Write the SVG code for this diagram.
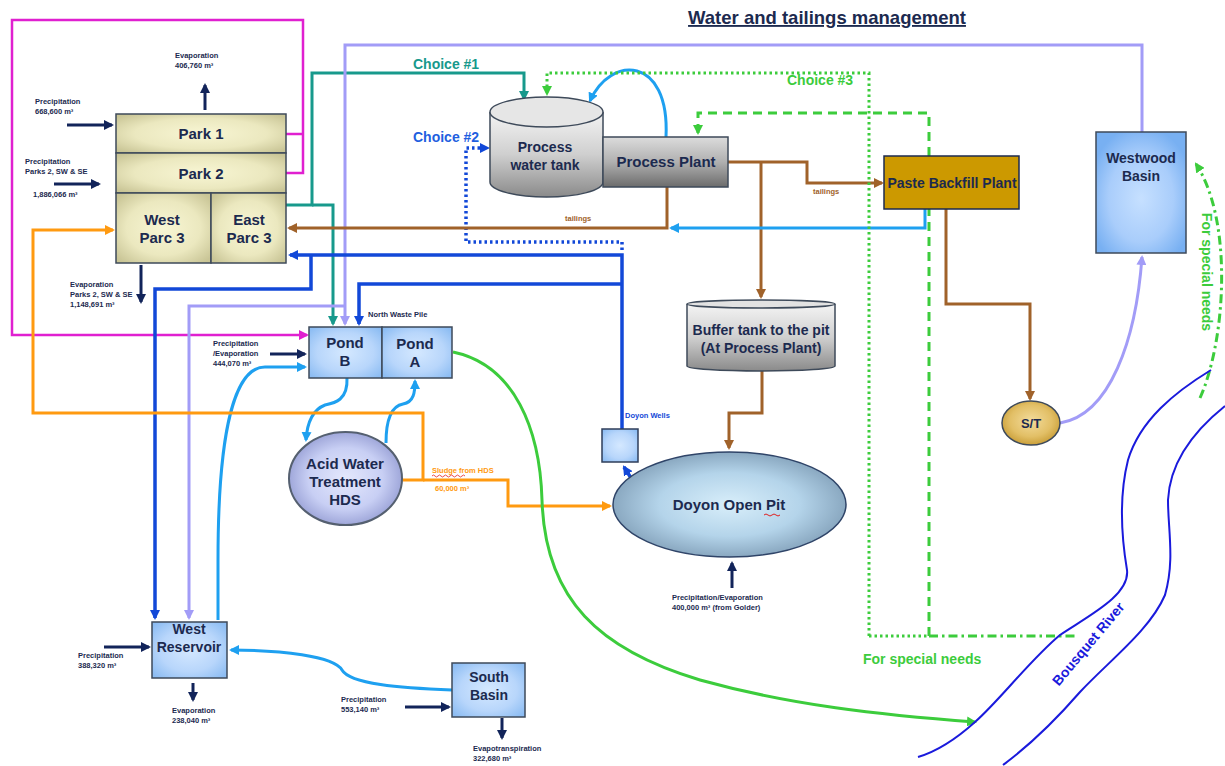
<svg xmlns="http://www.w3.org/2000/svg" width="1225" height="766" viewBox="0 0 1225 766">
<style>
.t{font-family:"Liberation Sans",Arial,sans-serif;font-weight:bold;text-anchor:middle}
.n{font-size:15px;fill:#1c2a4f}
.s{font-family:"Liberation Sans",Arial,sans-serif;font-weight:bold;font-size:7.5px;fill:#1c2a4f}
.c{fill:none;stroke-width:3;stroke-linejoin:miter}
.navy{stroke:#12245a;stroke-width:3}
.lb{stroke:#1ea0f0}
.db{stroke:#1248d8;stroke-width:3.5}
.lav{stroke:#a29cf7}
.teal{stroke:#17998c}
.br{stroke:#a0622a}
.or{stroke:#ff9a10}
.gr{stroke:#3ccc3c}
.mg{stroke:#e020d0;stroke-width:2.5}
.box{stroke:#3e4a5a;stroke-width:1.5}
</style>
<defs>
<marker id="mNavy" viewBox="0 0 10 10" refX="8" refY="5" markerWidth="10" markerHeight="10" markerUnits="userSpaceOnUse" orient="auto"><path d="M0,0L10,5L0,10z" fill="#12245a"/></marker>
<marker id="mLb" viewBox="0 0 10 10" refX="8" refY="5" markerWidth="10" markerHeight="10" markerUnits="userSpaceOnUse" orient="auto"><path d="M0,0L10,5L0,10z" fill="#1ea0f0"/></marker>
<marker id="mDb" viewBox="0 0 10 10" refX="8" refY="5" markerWidth="10" markerHeight="10" markerUnits="userSpaceOnUse" orient="auto"><path d="M0,0L10,5L0,10z" fill="#1248d8"/></marker>
<marker id="mLav" viewBox="0 0 10 10" refX="8" refY="5" markerWidth="10" markerHeight="10" markerUnits="userSpaceOnUse" orient="auto"><path d="M0,0L10,5L0,10z" fill="#a29cf7"/></marker>
<marker id="mTeal" viewBox="0 0 10 10" refX="8" refY="5" markerWidth="10" markerHeight="10" markerUnits="userSpaceOnUse" orient="auto"><path d="M0,0L10,5L0,10z" fill="#17998c"/></marker>
<marker id="mBr" viewBox="0 0 10 10" refX="8" refY="5" markerWidth="10" markerHeight="10" markerUnits="userSpaceOnUse" orient="auto"><path d="M0,0L10,5L0,10z" fill="#a0622a"/></marker>
<marker id="mOr" viewBox="0 0 10 10" refX="8" refY="5" markerWidth="10" markerHeight="10" markerUnits="userSpaceOnUse" orient="auto"><path d="M0,0L10,5L0,10z" fill="#ff9a10"/></marker>
<marker id="mGr" viewBox="0 0 10 10" refX="8" refY="5" markerWidth="10" markerHeight="10" markerUnits="userSpaceOnUse" orient="auto"><path d="M0,0L10,5L0,10z" fill="#3ccc3c"/></marker>
<marker id="mMg" viewBox="0 0 10 10" refX="8" refY="5" markerWidth="10" markerHeight="10" markerUnits="userSpaceOnUse" orient="auto"><path d="M0,0L10,5L0,10z" fill="#e020d0"/></marker>
<radialGradient id="gKhaki" cx="50%" cy="50%" r="65%"><stop offset="0" stop-color="#f8f6d4"/><stop offset="0.6" stop-color="#ebe8bf"/><stop offset="1" stop-color="#c9c596"/></radialGradient>
<radialGradient id="gBlue" cx="50%" cy="50%" r="65%"><stop offset="0" stop-color="#d4e8ff"/><stop offset="0.6" stop-color="#b8d6fb"/><stop offset="1" stop-color="#8dbdf3"/></radialGradient>
<radialGradient id="gWest" cx="50%" cy="55%" r="60%"><stop offset="0" stop-color="#c6e0ff"/><stop offset="0.6" stop-color="#a9cdfb"/><stop offset="1" stop-color="#78b0f2"/></radialGradient>
<linearGradient id="gCyl" x1="0" y1="0" x2="0" y2="1"><stop offset="0" stop-color="#f4f4f4"/><stop offset="0.5" stop-color="#cfcfcf"/><stop offset="1" stop-color="#8a8a8a"/></linearGradient>
<linearGradient id="gPlant" x1="0" y1="0" x2="0" y2="1"><stop offset="0" stop-color="#dcdcdc"/><stop offset="0.5" stop-color="#b0b0b0"/><stop offset="1" stop-color="#6c6c6c"/></linearGradient>
<radialGradient id="gPit" cx="50%" cy="50%" r="55%"><stop offset="0" stop-color="#d8eefa"/><stop offset="0.55" stop-color="#b4d4ea"/><stop offset="1" stop-color="#7f9db6"/></radialGradient>
<radialGradient id="gHds" cx="50%" cy="50%" r="55%"><stop offset="0" stop-color="#e4e8fc"/><stop offset="0.6" stop-color="#c8cff4"/><stop offset="1" stop-color="#939bd2"/></radialGradient>
<radialGradient id="gSt" cx="50%" cy="45%" r="60%"><stop offset="0" stop-color="#f3dc9c"/><stop offset="0.6" stop-color="#e2bf66"/><stop offset="1" stop-color="#c4972e"/></radialGradient>
</defs>
<rect width="1225" height="766" fill="#ffffff"/>

<text x="827" y="24" class="t" font-size="18.5" fill="#1c2a4f" text-decoration="underline">Water and tailings management</text>

<g id="connectors">
<!-- magenta -->
<path class="c mg" d="M286,134H303"/>
<path class="c mg" d="M286,173H303V20H12V335H307" marker-end="url(#mMg)"/>
<!-- teal -->
<path class="c teal" d="M284,205H312V73H524V99" marker-end="url(#mTeal)"/>
<path class="c teal" d="M312,205H333V324" marker-end="url(#mTeal)"/>
<!-- lavender -->
<path class="c lav" d="M1142,132V45H345V324" marker-end="url(#mLav)"/>
<path class="c lav" d="M345,306H189V618" marker-end="url(#mLav)"/>
<path class="c lav" d="M1060,423C1110,415 1136,340 1142,257" marker-end="url(#mLav)"/>
<!-- dark blue -->
<path class="c db" d="M622,429V255H290" marker-end="url(#mDb)"/>
<path class="c db" d="M622,284H359V324" marker-end="url(#mDb)"/>
<path class="c db" d="M311,255V289H155V618" marker-end="url(#mDb)"/>
<path class="c db" d="M631,478L624,467" stroke-width="3" marker-end="url(#mDb)"/>
<path class="c db" d="M622,250V242H466V148H488" stroke-width="3" stroke-dasharray="2.5 3" marker-end="url(#mDb)"/>
<!-- brown -->
<path class="c br" d="M667,187V228H289" marker-end="url(#mBr)"/>
<path class="c br" d="M728,162H807V183H882" marker-end="url(#mBr)"/>
<path class="c br" d="M761,162V297" marker-end="url(#mBr)"/>
<path class="c br" d="M762,371V413H729V448" marker-end="url(#mBr)"/>
<path class="c br" d="M946,209V304H1030V399" marker-end="url(#mBr)"/>
<!-- light blue -->
<path class="c lb" d="M925,209V228H671" marker-end="url(#mLb)"/>
<path class="c lb" d="M139,144V166" marker-end="url(#mLb)"/>
<path class="c lb" d="M155,182V207" marker-end="url(#mLb)"/>
<path class="c lb" d="M193,231H226" marker-end="url(#mLb)"/>
<path class="c lb" d="M593,148H625" marker-end="url(#mLb)"/>
<path class="c lb" d="M666,137C670,55 610,55 590,101" marker-end="url(#mLb)"/>
<path class="c lb" d="M347,378C348,400 335,403 325,405C312,410 307,425 306,440" marker-end="url(#mLb)"/>
<path class="c lb" d="M386,443C386,418 392,406 403,404C414,402 415,392 415,381" marker-end="url(#mLb)"/>
<path class="c lb" d="M218,620V560C218,430 235,367 265,367H305" marker-end="url(#mLb)"/>
<path class="c lb" d="M452,690C400,688 350,684 342,670C334,656 280,650 231,650" marker-end="url(#mLb)"/>
<!-- orange -->
<path class="c or" d="M402,480H423V413H33V230H113" marker-end="url(#mOr)"/>
<path class="c or" d="M423,480H508V506H610" marker-end="url(#mOr)"/>
<!-- green -->
<path class="c gr" d="M453,352C515,365 540,430 542,500C545,600 600,650 700,680C790,705 880,715 975,722" marker-end="url(#mGr)"/>
<path class="c gr" d="M869,636V73H547V94" stroke-dasharray="2.5 3" marker-end="url(#mGr)"/>
<path class="c gr" d="M869,636H929" stroke-dasharray="2.5 3"/>
<path class="c gr" d="M929,636V113H698V133" stroke-dasharray="9 6" marker-end="url(#mGr)"/>
<path class="c gr" d="M929,636H1078" stroke-dasharray="9 4 2.5 4"/>
<path class="c gr" d="M1200,398C1226,340 1233,220 1196,164" stroke-dasharray="9 4 2.5 4" marker-end="url(#mGr)"/>
<!-- navy input/output arrows -->
<path class="c navy" d="M205,110V85" marker-end="url(#mNavy)"/>
<path class="c navy" d="M67,125H112" marker-end="url(#mNavy)"/>
<path class="c navy" d="M54,184H99" marker-end="url(#mNavy)"/>
<path class="c navy" d="M141,265V302" marker-end="url(#mNavy)"/>
<path class="c navy" d="M270,354H305" marker-end="url(#mNavy)"/>
<path class="c navy" d="M732,588V563" marker-end="url(#mNavy)"/>
<path class="c navy" d="M104,647H149" marker-end="url(#mNavy)"/>
<path class="c navy" d="M193,683V700" marker-end="url(#mNavy)"/>
<path class="c navy" d="M405,707H449" marker-end="url(#mNavy)"/>
<path class="c navy" d="M502,718V738" marker-end="url(#mNavy)"/>
</g>

<g id="river">
<path d="M1211,370C1175,392 1140,420 1128,460C1118,500 1122,540 1127,570C1130,595 1090,615 1060,635C1030,660 1000,700 975,722C955,740 935,752 918,757" fill="none" stroke="#1a1adc" stroke-width="2"/>
<path d="M1225,406C1195,430 1170,460 1168,500C1168,530 1175,560 1165,595C1150,630 1110,660 1080,692C1060,715 1030,745 1003,765" fill="none" stroke="#1a1adc" stroke-width="2"/>
<text class="t" font-size="14" fill="#1a1adc" transform="translate(1092,647) rotate(-50)">Bousquet River</text>
</g>

<g id="parks">
<rect x="116" y="114" width="170" height="39" fill="url(#gKhaki)" class="box"/>
<rect x="116" y="153" width="170" height="40" fill="url(#gKhaki)" class="box"/>
<rect x="116" y="193" width="95" height="70" fill="url(#gKhaki)" class="box"/>
<rect x="211" y="193" width="75" height="70" fill="url(#gKhaki)" class="box"/>
<text x="201" y="139" class="t n">Park 1</text>
<text x="201" y="179" class="t n">Park 2</text>
<text x="162" y="225" class="t n">West</text>
<text x="162" y="243" class="t n">Parc 3</text>
<text x="249" y="225" class="t n">East</text>
<text x="249" y="243" class="t n">Parc 3</text>
</g>

<g id="process-water-tank">
<path d="M490,112V182A56.5,15 0 0 0 603,182V112" fill="url(#gCyl)" stroke="#3e4a5a" stroke-width="1.5"/>
<ellipse cx="546.5" cy="112" rx="56.5" ry="15" fill="#e6e6e6" stroke="#3e4a5a" stroke-width="1.5"/>
<text x="545" y="152" class="t" font-size="14" fill="#1c2a4f">Process</text>
<text x="545" y="170" class="t" font-size="14" fill="#1c2a4f">water tank</text>
</g>

<g id="process-plant">
<rect x="603" y="137" width="125" height="50" fill="url(#gPlant)" class="box"/>
<text x="666" y="167" class="t" font-size="15" fill="#1c2a4f">Process Plant</text>
</g>

<g id="paste-backfill">
<rect x="884" y="156" width="135" height="53" fill="#cc9900" stroke="#1c2a4f" stroke-width="1.5"/>
<text x="952" y="188" class="t" font-size="14" fill="#1c2a4f">Paste Backfill Plant</text>
</g>

<g id="westwood">
<rect x="1096" y="132" width="90" height="121" fill="url(#gWest)" class="box"/>
<text x="1141" y="163" class="t" font-size="14" fill="#1c2a4f">Westwood</text>
<text x="1141" y="181" class="t" font-size="14" fill="#1c2a4f">Basin</text>
</g>

<g id="st">
<ellipse cx="1031" cy="423" rx="29" ry="22" fill="url(#gSt)" stroke="#3e4a5a" stroke-width="1.5"/>
<text x="1031" y="428" class="t" font-size="13" fill="#1c2a4f">S/T</text>
</g>

<g id="buffer-tank">
<path d="M687,304V366A74,5 0 0 0 835,366V304" fill="url(#gCyl)" stroke="#3e4a5a" stroke-width="1.5"/>
<ellipse cx="761" cy="304" rx="74" ry="4" fill="#e2e2e2" stroke="#3e4a5a" stroke-width="1.5"/>
<text x="761" y="335" class="t" font-size="14" fill="#1c2a4f">Buffer tank to the pit</text>
<text x="761" y="353" class="t" font-size="14" fill="#1c2a4f">(At Process Plant)</text>
</g>

<g id="doyon-pit">
<ellipse cx="729.5" cy="504.5" rx="116.5" ry="52.5" fill="url(#gPit)" stroke="#2f4468" stroke-width="1.5"/>
<text x="729" y="510" class="t" font-size="15" fill="#1c2a4f">Doyon Open Pit</text>
<path d="M764,515q2,-2 4,0t4,0t4,0t4,0" fill="none" stroke="#e02020" stroke-width="1"/>
</g>

<g id="doyon-wells">
<rect x="602" y="429" width="36" height="33" fill="url(#gBlue)" stroke="#2f3e5a" stroke-width="1.5"/>
<text x="625" y="418" font-family="Liberation Sans, Arial, sans-serif" font-weight="bold" font-size="7.5" fill="#1248d8">Doyon Wells</text>
</g>

<g id="ponds">
<rect x="309" y="327" width="73" height="51" fill="url(#gBlue)" class="box"/>
<rect x="382" y="327" width="70" height="51" fill="url(#gBlue)" class="box"/>
<text x="345" y="348" class="t n">Pond</text>
<text x="345" y="366" class="t n">B</text>
<text x="415" y="349" class="t n">Pond</text>
<text x="415" y="367" class="t n">A</text>
<text x="368" y="317" class="s">North  Waste Pile</text>
</g>

<g id="hds">
<ellipse cx="345.5" cy="478.5" rx="56.5" ry="46.5" fill="url(#gHds)" stroke="#556070" stroke-width="2"/>
<text x="345" y="469" class="t n">Acid Water</text>
<text x="345" y="487" class="t n">Treatment</text>
<text x="345" y="505" class="t n">HDS</text>
</g>

<g id="west-reservoir">
<rect x="152" y="622" width="75" height="56" fill="url(#gBlue)" class="box"/>
<text x="189" y="634" class="t" font-size="14" fill="#1c2a4f">West</text>
<text x="189" y="652" class="t" font-size="14" fill="#1c2a4f">Reservoir</text>
</g>

<g id="south-basin">
<rect x="452" y="663" width="73" height="54" fill="url(#gBlue)" class="box"/>
<text x="489" y="682" class="t" font-size="14" fill="#1c2a4f">South</text>
<text x="489" y="700" class="t" font-size="14" fill="#1c2a4f">Basin</text>
</g>

<g id="labels">
<text x="413" y="69" class="t" font-size="14" fill="#17998c" style="text-anchor:start">Choice #1</text>
<text x="413" y="142" class="t" font-size="14" fill="#1f5fe0" style="text-anchor:start">Choice #2</text>
<text x="787" y="85" class="t" font-size="14" fill="#3ccc3c" style="text-anchor:start">Choice #3</text>
<text x="863" y="664" class="t" font-size="14" fill="#3ccc3c" style="text-anchor:start">For special needs</text>
<text class="t" font-size="14" fill="#3ccc3c" transform="translate(1202,272) rotate(90)">For special needs</text>
<text x="565" y="221" font-family="Liberation Sans, Arial, sans-serif" font-weight="bold" font-size="7.5" fill="#a0622a">tailings</text>
<text x="813" y="194" font-family="Liberation Sans, Arial, sans-serif" font-weight="bold" font-size="7.5" fill="#a0622a">tailings</text>
<text x="432" y="473" font-family="Liberation Sans, Arial, sans-serif" font-weight="bold" font-size="7.5" fill="#ff9a10">Sludge from HDS</text>
<path d="M432,476q1.5,-2 3,0t3,0t3,0t3,0t3,0t3,0t3,0t3,0t3,0t3,0t3,0" fill="none" stroke="#e02020" stroke-width="0.8"/>
<text x="435" y="491" font-family="Liberation Sans, Arial, sans-serif" font-weight="bold" font-size="7.5" fill="#ff9a10">60,000 m³</text>
<text x="175" y="58" class="s">Evaporation</text>
<text x="175" y="68" class="s">406,760 m³</text>
<text x="35" y="104" class="s">Precipitation</text>
<text x="35" y="114" class="s">668,600 m³</text>
<text x="25" y="164" class="s">Precipitation</text>
<text x="25" y="174" class="s">Parks 2, SW &amp; SE</text>
<text x="33" y="197" class="s">1,886,066 m³</text>
<text x="70" y="287" class="s">Evaporation</text>
<text x="70" y="297" class="s">Parks 2, SW &amp; SE</text>
<text x="70" y="307" class="s">1,148,691 m³</text>
<text x="213" y="346" class="s">Precipitation</text>
<text x="213" y="356" class="s">/Evaporation</text>
<text x="213" y="366" class="s">444,070 m³</text>
<text x="672" y="600" class="s">Precipitation/Evaporation</text>
<text x="672" y="610" class="s">400,000 m³  (from Golder)</text>
<text x="78" y="658" class="s">Precipitation</text>
<text x="78" y="668" class="s">388,320 m³</text>
<text x="172" y="713" class="s">Evaporation</text>
<text x="172" y="723" class="s">238,040 m³</text>
<text x="341" y="702" class="s">Precipitation</text>
<text x="341" y="712" class="s">553,140 m³</text>
<text x="473" y="751" class="s">Evapotranspiration</text>
<text x="473" y="761" class="s">322,680 m³</text>
</g>
</svg>
